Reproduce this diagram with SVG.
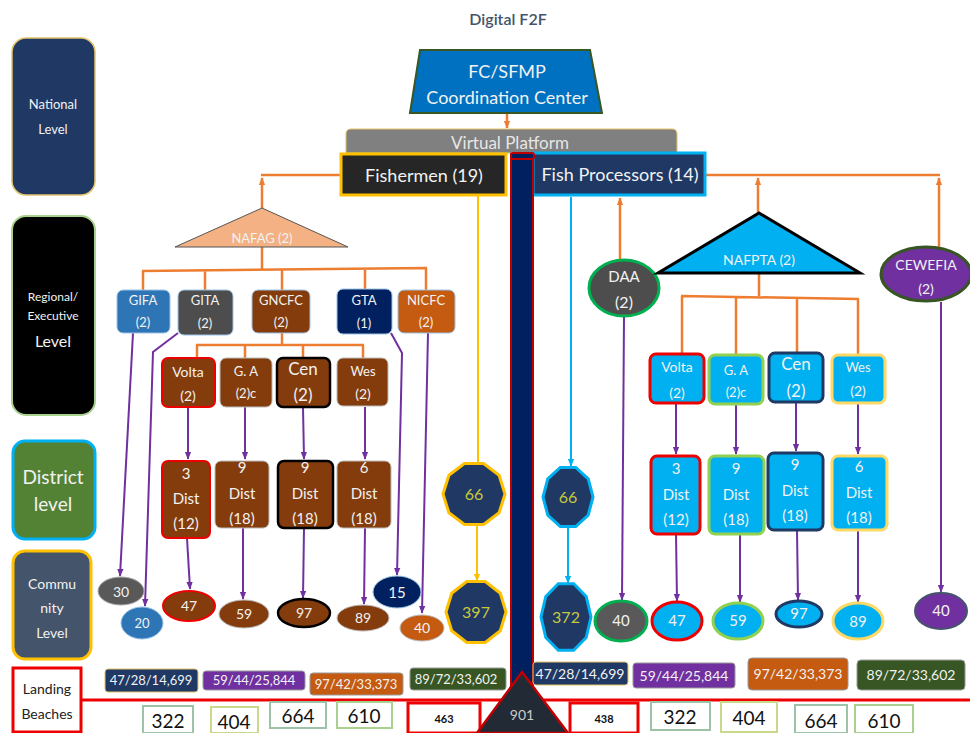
<svg xmlns="http://www.w3.org/2000/svg" width="970" height="733" viewBox="0 0 970 733">
<defs>
<style>
text{font-family:Lato,"Open Sans","Liberation Sans",sans-serif;text-anchor:middle;fill:#f2f2f2}
.o{stroke:#ed7d31;stroke-width:2.5;fill:none}
.p{stroke:#7030a0;stroke-width:2;fill:none}
.y{stroke:#ffc000;stroke-width:2;fill:none}
.b{stroke:#00b0f0;stroke-width:2;fill:none}
.br{fill:#843c0c}
.cy{fill:#00b0f0}
.oct{fill:#1f3864;stroke-width:3}
.octt{fill:#c8c83c;font-size:16px}
.nb{fill:#fff;stroke-width:2}
.nbt{fill:#111;font-size:19px}
.st{font-size:13px}
</style>
<marker id="ao" viewBox="0 0 10 10" refX="9" refY="5" markerWidth="8" markerHeight="8" markerUnits="userSpaceOnUse" orient="auto"><path d="M0,1 L10,5 L0,9 z" fill="#ed7d31"/></marker>
<marker id="ap" viewBox="0 0 10 10" refX="9" refY="5" markerWidth="8" markerHeight="8" markerUnits="userSpaceOnUse" orient="auto"><path d="M0,1 L10,5 L0,9 z" fill="#7030a0"/></marker>
<marker id="ay" viewBox="0 0 10 10" refX="9" refY="5" markerWidth="8" markerHeight="8" markerUnits="userSpaceOnUse" orient="auto"><path d="M0,1 L10,5 L0,9 z" fill="#ffc000"/></marker>
<marker id="ab" viewBox="0 0 10 10" refX="9" refY="5" markerWidth="8" markerHeight="8" markerUnits="userSpaceOnUse" orient="auto"><path d="M0,1 L10,5 L0,9 z" fill="#00b0f0"/></marker>
</defs>
<rect width="970" height="733" fill="#fff"/>
<text x="508" y="25" style="fill:#44546a;font-size:16px;font-weight:600">Digital F2F</text>

<!-- level labels -->
<g id="lvl-national"><rect x="12" y="38" width="83" height="157" rx="14" fill="#1f3864" stroke="#e2c46a" stroke-width="1.5"/><text x="53" y="109" font-size="13">National</text><text x="53" y="134" font-size="13">Level</text></g>
<g id="lvl-regional"><rect x="12" y="216" width="83" height="199" rx="14" fill="#000" stroke="#a9d18e" stroke-width="2"/><text x="53" y="301" font-size="12">Regional/</text><text x="53" y="320" font-size="12">Executive</text><text x="53" y="347" font-size="16">Level</text></g>
<g id="lvl-district"><rect x="13" y="441" width="82" height="98" rx="12" fill="#548235" stroke="#00b0f0" stroke-width="3"/><text x="53" y="484" font-size="19">District</text><text x="53" y="511" font-size="19">level</text></g>
<g id="lvl-community"><rect x="13" y="551" width="78" height="108" rx="12" fill="#44546a" stroke="#ffc000" stroke-width="3"/><text x="52" y="589" font-size="14">Commu</text><text x="52" y="613" font-size="14">nity</text><text x="52" y="638" font-size="14">Level</text></g>
<g id="lvl-landing"><rect x="13" y="668" width="68" height="64" fill="#fff" stroke="#e00" stroke-width="3"/><text x="47" y="694" font-size="14" style="fill:#222">Landing</text><text x="47" y="719" font-size="14" style="fill:#222">Beaches</text></g>

<!-- connectors -->
<g id="connectors">
<path class="o" d="M507,113 V128" marker-end="url(#ao)"/>
<path class="o" d="M262,208 V178" marker-end="url(#ao)"/>
<path class="o" d="M261,175 H341"/>
<path class="o" d="M706,175 H940"/>
<path class="o" d="M758,213 V178" marker-end="url(#ao)"/>
<path class="o" d="M939,248 V178" marker-end="url(#ao)"/>
<path class="o" d="M620,261 V198" marker-end="url(#ao)"/>
<path class="o" d="M262,247 V269 M142,271 L427,268 M143,271 V290 M205,270 V290 M282,270 V290 M365,269 V289 M426,268 V290"/>
<path class="o" d="M282,333 V345 M196,345 H364 M197,345 V358 M245,345 V358 M303,345 V358 M363,345 V358"/>
<path class="o" d="M759,273 V296 M681,296 L859,299 M682,296 V354 M736,297 V354 M797,298 V352 M858,299 V354"/>
<path class="p" d="M133,333 L120,576" marker-end="url(#ap)"/>
<path class="p" d="M178,333 L153,352 L145,606" marker-end="url(#ap)"/>
<path class="p" d="M188,407 V459" marker-end="url(#ap)"/>
<path class="p" d="M245,407 V459" marker-end="url(#ap)"/>
<path class="p" d="M303,407 L304,459" marker-end="url(#ap)"/>
<path class="p" d="M365,407 V459" marker-end="url(#ap)"/>
<path class="p" d="M391,333 L402,353 L397,575" marker-end="url(#ap)"/>
<path class="p" d="M428,333 L422,613" marker-end="url(#ap)"/>
<path class="p" d="M187,538 L190,589" marker-end="url(#ap)"/>
<path class="p" d="M243,528 V599" marker-end="url(#ap)"/>
<path class="p" d="M304,528 L303,598" marker-end="url(#ap)"/>
<path class="p" d="M365,528 L364,604" marker-end="url(#ap)"/>
<path class="p" d="M624,317 L622,600" marker-end="url(#ap)"/>
<path class="p" d="M676,403 V454" marker-end="url(#ap)"/>
<path class="p" d="M736,403 V454" marker-end="url(#ap)"/>
<path class="p" d="M796,402 V451" marker-end="url(#ap)"/>
<path class="p" d="M858,403 V454" marker-end="url(#ap)"/>
<path class="p" d="M676,534 L677,601" marker-end="url(#ap)"/>
<path class="p" d="M740,534 V602" marker-end="url(#ap)"/>
<path class="p" d="M797,530 L798,600" marker-end="url(#ap)"/>
<path class="p" d="M858,530 V602" marker-end="url(#ap)"/>
<path class="p" d="M941,302 V592" marker-end="url(#ap)"/>
<path class="y" d="M478,196 V463"/>
<path class="y" d="M477,525 V581" marker-end="url(#ay)"/>
<path class="b" d="M571,197 V466" marker-end="url(#ab)"/>
<path class="b" d="M568,527 V583" marker-end="url(#ab)"/>
<path d="M82,700 H970" stroke="#e00" stroke-width="3" fill="none"/>
</g>

<!-- national -->
<g id="fc-sfmp"><polygon points="420,50 590,50 602,113 410,113" fill="#0070c0" stroke="#385723" stroke-width="2"/><text x="507" y="78" font-size="18">FC/SFMP</text><text x="507" y="104" font-size="18">Coordination Center</text></g>
<g id="virtual-platform"><path d="M346,153 V134 Q346,129 351,129 H672 Q677,129 677,134 V153 Z" fill="#808080" stroke="#e2c46a" stroke-width="1"/><text x="510" y="149" font-size="17" style="fill:#e7e6e6">Virtual Platform</text></g>
<g id="fishermen"><rect x="341" y="154" width="165" height="41" fill="#262626" stroke="#ffc000" stroke-width="3"/><text x="424" y="182" font-size="18">Fishermen (19)</text></g>
<g id="fish-processors"><rect x="533" y="153" width="172" height="42" fill="#1f3864" stroke="#00b0f0" stroke-width="3"/><text x="620" y="181" font-size="18">Fish Processors (14)</text></g>
<g id="pillar"><rect x="511" y="154" width="22" height="545" fill="#002060" stroke="#c00000" stroke-width="2"/><rect x="511" y="153" width="23" height="6" rx="2" fill="#002060" stroke="#c00000" stroke-width="2"/></g>

<!-- fishermen side -->
<g id="nafag"><polygon points="262,208 348,247 175,247" fill="#f4b183" stroke="#555" stroke-width="1"/><text x="262" y="243" font-size="13">NAFAG (2)</text></g>
<g id="gifa"><rect x="117" y="290" width="53" height="43" rx="6" fill="#2e75b6" stroke="#9dc3e6" stroke-width="1"/><text x="143" y="305" font-size="13">GIFA</text><text x="143" y="327" font-size="13">(2)</text></g>
<g id="gita"><rect x="178" y="290" width="55" height="45" rx="6" fill="#4d4d4d" stroke="#9dc3e6" stroke-width="1"/><text x="205" y="305" font-size="13">GITA</text><text x="205" y="328" font-size="13">(2)</text></g>
<g id="gncfc"><rect x="252" y="290" width="58" height="43" rx="6" class="br" stroke="#9dc3e6" stroke-width="1"/><text x="281" y="305" font-size="13">GNCFC</text><text x="281" y="327" font-size="13">(2)</text></g>
<g id="gta"><rect x="337" y="289" width="55" height="45" rx="6" fill="#002060" stroke="#9dc3e6" stroke-width="1"/><text x="364" y="305" font-size="13">GTA</text><text x="364" y="328" font-size="13">(1)</text></g>
<g id="nicfc"><rect x="398" y="290" width="57" height="43" rx="6" fill="#c55a11" stroke="#9dc3e6" stroke-width="1"/><text x="426" y="305" font-size="13">NICFC</text><text x="426" y="327" font-size="13">(2)</text></g>

<g id="f-volta"><rect x="162" y="358" width="53" height="49" rx="6" class="br" stroke="#e00" stroke-width="2"/><text x="188" y="377" font-size="14">Volta</text><text x="188" y="401" font-size="14">(2)</text></g>
<g id="f-ga"><rect x="220" y="358" width="52" height="49" rx="6" class="br" stroke="#bbb" stroke-width="1"/><text x="246" y="376" font-size="13">G. A</text><text x="246" y="398" font-size="13">(2)c</text></g>
<g id="f-cen"><rect x="277" y="358" width="53" height="49" rx="6" class="br" stroke="#000" stroke-width="2.5"/><text x="303" y="375" font-size="17">Cen</text><text x="303" y="401" font-size="17">(2)</text></g>
<g id="f-wes"><rect x="337" y="358" width="51" height="48" rx="6" class="br" stroke="#bbb" stroke-width="1"/><text x="363" y="376" font-size="13">Wes</text><text x="363" y="399" font-size="14">(2)</text></g>

<g id="f-d-volta"><rect x="162" y="461" width="48" height="77" rx="6" class="br" stroke="#e00" stroke-width="2"/><text x="186" y="479" font-size="15">3</text><text x="186" y="504" font-size="15">Dist</text><text x="186" y="529" font-size="15">(12)</text></g>
<g id="f-d-ga"><rect x="215" y="461" width="54" height="67" rx="6" class="br" stroke="#bbb" stroke-width="1"/><text x="242" y="473" font-size="15">9</text><text x="242" y="499" font-size="15">Dist</text><text x="242" y="524" font-size="15">(18)</text></g>
<g id="f-d-cen"><rect x="278" y="461" width="55" height="67" rx="6" class="br" stroke="#000" stroke-width="2.5"/><text x="305" y="473" font-size="15">9</text><text x="305" y="499" font-size="15">Dist</text><text x="305" y="524" font-size="15">(18)</text></g>
<g id="f-d-wes"><rect x="337" y="461" width="54" height="67" rx="6" class="br" stroke="#bbb" stroke-width="1"/><text x="364" y="473" font-size="15">6</text><text x="364" y="499" font-size="15">Dist</text><text x="364" y="524" font-size="15">(18)</text></g>

<g id="c-30"><ellipse cx="121" cy="591" rx="23" ry="14" fill="#595959" stroke="#aaa" stroke-width="1"/><text x="121" y="597" font-size="14">30</text></g>
<g id="c-20"><ellipse cx="142" cy="623" rx="21" ry="16" fill="#2e75b6" stroke="#9dc3e6" stroke-width="1"/><text x="142" y="628" font-size="13">20</text></g>
<g id="c-47"><ellipse cx="189" cy="606" rx="26" ry="15" class="br" stroke="#e00" stroke-width="2"/><text x="189" y="611" font-size="14">47</text></g>
<g id="c-59"><ellipse cx="244" cy="614" rx="25" ry="14" class="br" stroke="#bbb" stroke-width="1"/><text x="244" y="619" font-size="14">59</text></g>
<g id="c-97"><ellipse cx="304" cy="613" rx="26" ry="14" class="br" stroke="#000" stroke-width="2.5"/><text x="304" y="618" font-size="14">97</text></g>
<g id="c-89"><ellipse cx="363" cy="618" rx="26" ry="13" class="br" stroke="#bbb" stroke-width="1"/><text x="363" y="623" font-size="14">89</text></g>
<g id="c-15"><ellipse cx="397" cy="592" rx="24" ry="16" fill="#002060" stroke="#9dc3e6" stroke-width="1"/><text x="397" y="598" font-size="15">15</text></g>
<g id="c-40a"><ellipse cx="422" cy="628" rx="22" ry="13" fill="#c55a11" stroke="#bbb" stroke-width="1"/><text x="422" y="633" font-size="14">40</text></g>

<g id="f-66"><polygon class="oct" stroke="#ffc000" points="505,494 499.1,512.8 483.6,524.4 464.4,524.4 448.9,512.8 443,494 448.9,475.2 464.4,463.6 483.6,463.6 499.1,475.2"/><text class="octt" x="474" y="500">66</text></g>
<g id="f-397"><polygon class="oct" stroke="#ffc000" points="506,612 500.3,630.8 485.3,642.4 466.7,642.4 451.7,630.8 446,612 451.7,593.2 466.7,581.6 485.3,581.6 500.3,593.2"/><text class="octt" x="476" y="618">397</text></g>

<!-- processors side -->
<g id="p-66"><polygon class="oct" stroke="#00b0f0" points="593,497 588.2,515.2 575.7,526.5 560.3,526.5 547.8,515.2 543,497 547.8,478.8 560.3,467.5 575.7,467.5 588.2,478.8"/><text class="octt" x="568" y="503">66</text></g>
<g id="p-372"><polygon class="oct" stroke="#00b0f0" points="591,617 586.2,637.6 573.7,650.3 558.3,650.3 545.8,637.6 541,617 545.8,596.4 558.3,583.7 573.7,583.7 586.2,596.4"/><text class="octt" x="566" y="623">372</text></g>
<g id="daa"><ellipse cx="624" cy="288" rx="35" ry="28" fill="#4d4d4d" stroke="#00b050" stroke-width="3"/><text x="624" y="282" font-size="15">DAA</text><text x="624" y="308" font-size="16">(2)</text></g>
<g id="nafpta"><polygon points="759,213 860,273 658,273" fill="#00b0f0" stroke="#000" stroke-width="3" stroke-linejoin="miter"/><text x="759" y="265" font-size="14">NAFPTA (2)</text></g>
<g id="cewefia"><ellipse cx="926" cy="274" rx="45" ry="27" fill="#7030a0" stroke="#375623" stroke-width="3"/><text x="926" y="270" font-size="14">CEWEFIA</text><text x="926" y="294" font-size="14">(2)</text></g>

<g id="p-volta"><rect x="650" y="354" width="54" height="49" rx="6" class="cy" stroke="#e00" stroke-width="3"/><text x="677" y="372" font-size="14">Volta</text><text x="677" y="398" font-size="14">(2)</text></g>
<g id="p-ga"><rect x="709" y="355" width="54" height="49" rx="6" class="cy" stroke="#92d050" stroke-width="3"/><text x="736" y="375" font-size="13">G. A</text><text x="736" y="397" font-size="13">(2)c</text></g>
<g id="p-cen"><rect x="769" y="353" width="54" height="49" rx="6" class="cy" stroke="#1f3864" stroke-width="3"/><text x="796" y="370" font-size="17">Cen</text><text x="796" y="397" font-size="17">(2)</text></g>
<g id="p-wes"><rect x="832" y="355" width="53" height="48" rx="6" class="cy" stroke="#ffd966" stroke-width="3"/><text x="858" y="372" font-size="13">Wes</text><text x="858" y="396" font-size="14">(2)</text></g>

<g id="p-d-volta"><rect x="651" y="456" width="49" height="78" rx="6" class="cy" stroke="#e00" stroke-width="3"/><text x="676" y="474" font-size="15">3</text><text x="676" y="500" font-size="15">Dist</text><text x="676" y="525" font-size="15">(12)</text></g>
<g id="p-d-ga"><rect x="709" y="456" width="55" height="78" rx="6" class="cy" stroke="#92d050" stroke-width="3"/><text x="736" y="474" font-size="15">9</text><text x="736" y="500" font-size="15">Dist</text><text x="736" y="525" font-size="15">(18)</text></g>
<g id="p-d-cen"><rect x="768" y="453" width="55" height="77" rx="6" class="cy" stroke="#1f3864" stroke-width="3"/><text x="795" y="470" font-size="15">9</text><text x="795" y="496" font-size="15">Dist</text><text x="795" y="521" font-size="15">(18)</text></g>
<g id="p-d-wes"><rect x="832" y="456" width="55" height="74" rx="6" class="cy" stroke="#ffd966" stroke-width="3"/><text x="859" y="472" font-size="15">6</text><text x="859" y="498" font-size="15">Dist</text><text x="859" y="523" font-size="15">(18)</text></g>

<g id="c-40b"><ellipse cx="621" cy="621" rx="26" ry="20" fill="#595959" stroke="#00b050" stroke-width="3"/><text x="621" y="626" font-size="15">40</text></g>
<g id="c-47b"><ellipse cx="677" cy="621" rx="25" ry="19" class="cy" stroke="#e00" stroke-width="3"/><text x="677" y="626" font-size="15">47</text></g>
<g id="c-59b"><ellipse cx="738" cy="621" rx="25" ry="18" class="cy" stroke="#92d050" stroke-width="3"/><text x="738" y="626" font-size="15">59</text></g>
<g id="c-97b"><ellipse cx="799" cy="614" rx="23" ry="13" class="cy" stroke="#1f3864" stroke-width="3"/><text x="799" y="619" font-size="15">97</text></g>
<g id="c-89b"><ellipse cx="858" cy="621" rx="25" ry="18" class="cy" stroke="#ffd966" stroke-width="3"/><text x="858" y="627" font-size="15">89</text></g>
<g id="c-40c"><ellipse cx="941" cy="611" rx="26" ry="18" fill="#7030a0" stroke="#44546a" stroke-width="2"/><text x="941" y="616" font-size="15">40</text></g>

<!-- landing beaches -->
<g id="s1"><rect x="105" y="669" width="93" height="23" rx="3" fill="#1f3864" stroke="#e2c46a" stroke-width="1"/><text class="st" x="151" y="685">47/28/14,699</text></g>
<g id="s2"><rect x="203" y="671" width="102" height="19" rx="3" fill="#7030a0" stroke="#999" stroke-width="1"/><text class="st" x="254" y="685">59/44/25,844</text></g>
<g id="s3"><rect x="310" y="673" width="93" height="22" rx="3" fill="#c55a11" stroke="#999" stroke-width="1"/><text class="st" x="356" y="689">97/42/33,373</text></g>
<g id="s4"><rect x="410" y="668" width="96" height="22" rx="3" fill="#375623" stroke="#999" stroke-width="1"/><text class="st" x="456" y="684">89/72/33,602</text></g>
<g id="s5"><rect x="533" y="662" width="95" height="23" rx="3" fill="#1f3864" stroke="#e2c46a" stroke-width="1"/><text x="580" y="679" font-size="14">47/28/14,699</text></g>
<g id="s6"><rect x="633" y="663" width="102" height="25" rx="3" fill="#7030a0" stroke="#999" stroke-width="1"/><text x="684" y="681" font-size="14">59/44/25,844</text></g>
<g id="s7"><rect x="748" y="658" width="100" height="32" rx="4" fill="#c55a11" stroke="#999" stroke-width="1"/><text x="798" y="679" font-size="14">97/42/33,373</text></g>
<g id="s8"><rect x="857" y="660" width="108" height="30" rx="4" fill="#375623" stroke="#999" stroke-width="1"/><text x="911" y="680" font-size="14">89/72/33,602</text></g>

<g id="n322a"><rect class="nb" x="143" y="706" width="50" height="27" stroke="#9cc2a8"/><text class="nbt" x="168" y="728">322</text></g>
<g id="n404a"><rect class="nb" x="211" y="707" width="47" height="26" stroke="#c8d98c"/><text class="nbt" x="234" y="729">404</text></g>
<g id="n664a"><rect class="nb" x="270" y="702" width="56" height="26" stroke="#9cc2a8"/><text class="nbt" x="298" y="723">664</text></g>
<g id="n610a"><rect class="nb" x="337" y="702" width="55" height="26" stroke="#a9d08e"/><text class="nbt" x="364" y="723">610</text></g>
<g id="n463"><rect x="408" y="703" width="72" height="30" fill="#fff" stroke="#e00" stroke-width="3"/><text x="444" y="723" font-size="11" font-weight="bold" style="fill:#111">463</text></g>
<g id="n438"><rect x="570" y="703" width="68" height="30" fill="#fff" stroke="#e00" stroke-width="3"/><text x="604" y="723" font-size="11" font-weight="bold" style="fill:#111">438</text></g>
<g id="n901"><polygon points="522,672 568,733 477,733" fill="#222a35" stroke="#c00000" stroke-width="2.5"/><text x="522" y="720" font-size="14" style="fill:#ccc">901</text></g>
<g id="n322b"><rect class="nb" x="651" y="702" width="59" height="28" stroke="#9cc2a8"/><text class="nbt" x="680" y="724">322</text></g>
<g id="n404b"><rect class="nb" x="721" y="702" width="56" height="30" stroke="#c8d98c"/><text class="nbt" x="749" y="725">404</text></g>
<g id="n664b"><rect class="nb" x="795" y="705" width="52" height="28" stroke="#9cc2a8"/><text class="nbt" x="821" y="728">664</text></g>
<g id="n610b"><rect class="nb" x="855" y="705" width="58" height="28" stroke="#a9d08e"/><text class="nbt" x="884" y="728">610</text></g>
</svg>
